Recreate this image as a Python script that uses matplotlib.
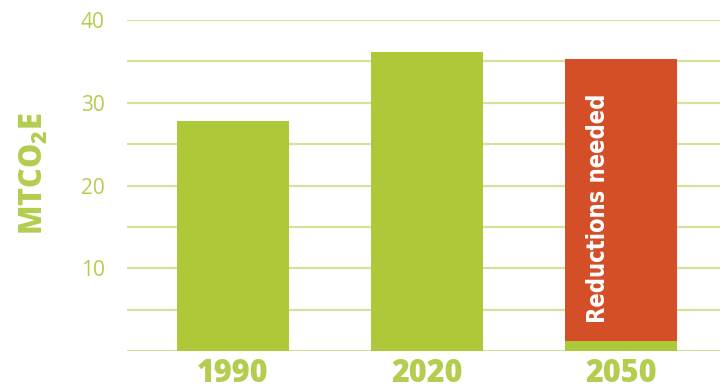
import numpy as np
import matplotlib
matplotlib.use('Agg')
import matplotlib.pyplot as plt

# data
years = ['1990', '2020', '2050']
emissions = [27.8, 36.1, 1.2]        # green part
reductions = [0, 0, 34.1]            # red part stacked on top
yTicks = [10, 20, 30, 40]
gridLevels = [0, 5, 10, 15, 20, 25, 30, 35, 40]

green = '#adc93a'
red = '#d44f27'
gridColor = '#d3e39b'
labelGreen = '#b3cd4f'

fig = plt.figure(figsize=(7.25, 3.92), dpi=100)
ax = fig.add_axes([127/725, 1-351/392, (720-127)/725, (351-20)/392])

x = np.arange(len(years))
for g in gridLevels:
    ax.axhline(g, color=gridColor, linewidth=1.6, zorder=0)
ax.bar(x, emissions, width=0.577, color=green, zorder=2)
ax.bar(x, reductions, width=0.577, bottom=emissions, color=red, zorder=2)

ax.text(1.88, emissions[2] + reductions[2]*0.47, 'Reductions needed', rotation=90,
        ha='center', va='center', color='white', fontsize=17, fontweight='heavy',
        fontstretch='condensed', family='DejaVu Sans', zorder=3)

ax.set_xlim(-0.546, 2.51)
ax.set_ylim(0, 40)
ax.set_xticks(x)
ax.set_xticklabels(years, fontsize=22, fontweight='heavy', color=labelGreen, family='Open Sans')
ax.set_yticks(yTicks)
ax.set_yticklabels([str(t) for t in yTicks], fontsize=15, color=labelGreen, family='Open Sans')
ax.tick_params(axis='x', length=0, pad=5)
ax.tick_params(axis='y', length=0, pad=16)
for s in ax.spines.values():
    s.set_visible(False)

fig.text(35/725, 1-174/392, r'MTCO$_\mathregular{2}$E', rotation=90, ha='center', va='center',
         fontsize=22, fontweight='heavy', color=labelGreen, family='Open Sans')

fig.savefig('out.png', dpi=100)
